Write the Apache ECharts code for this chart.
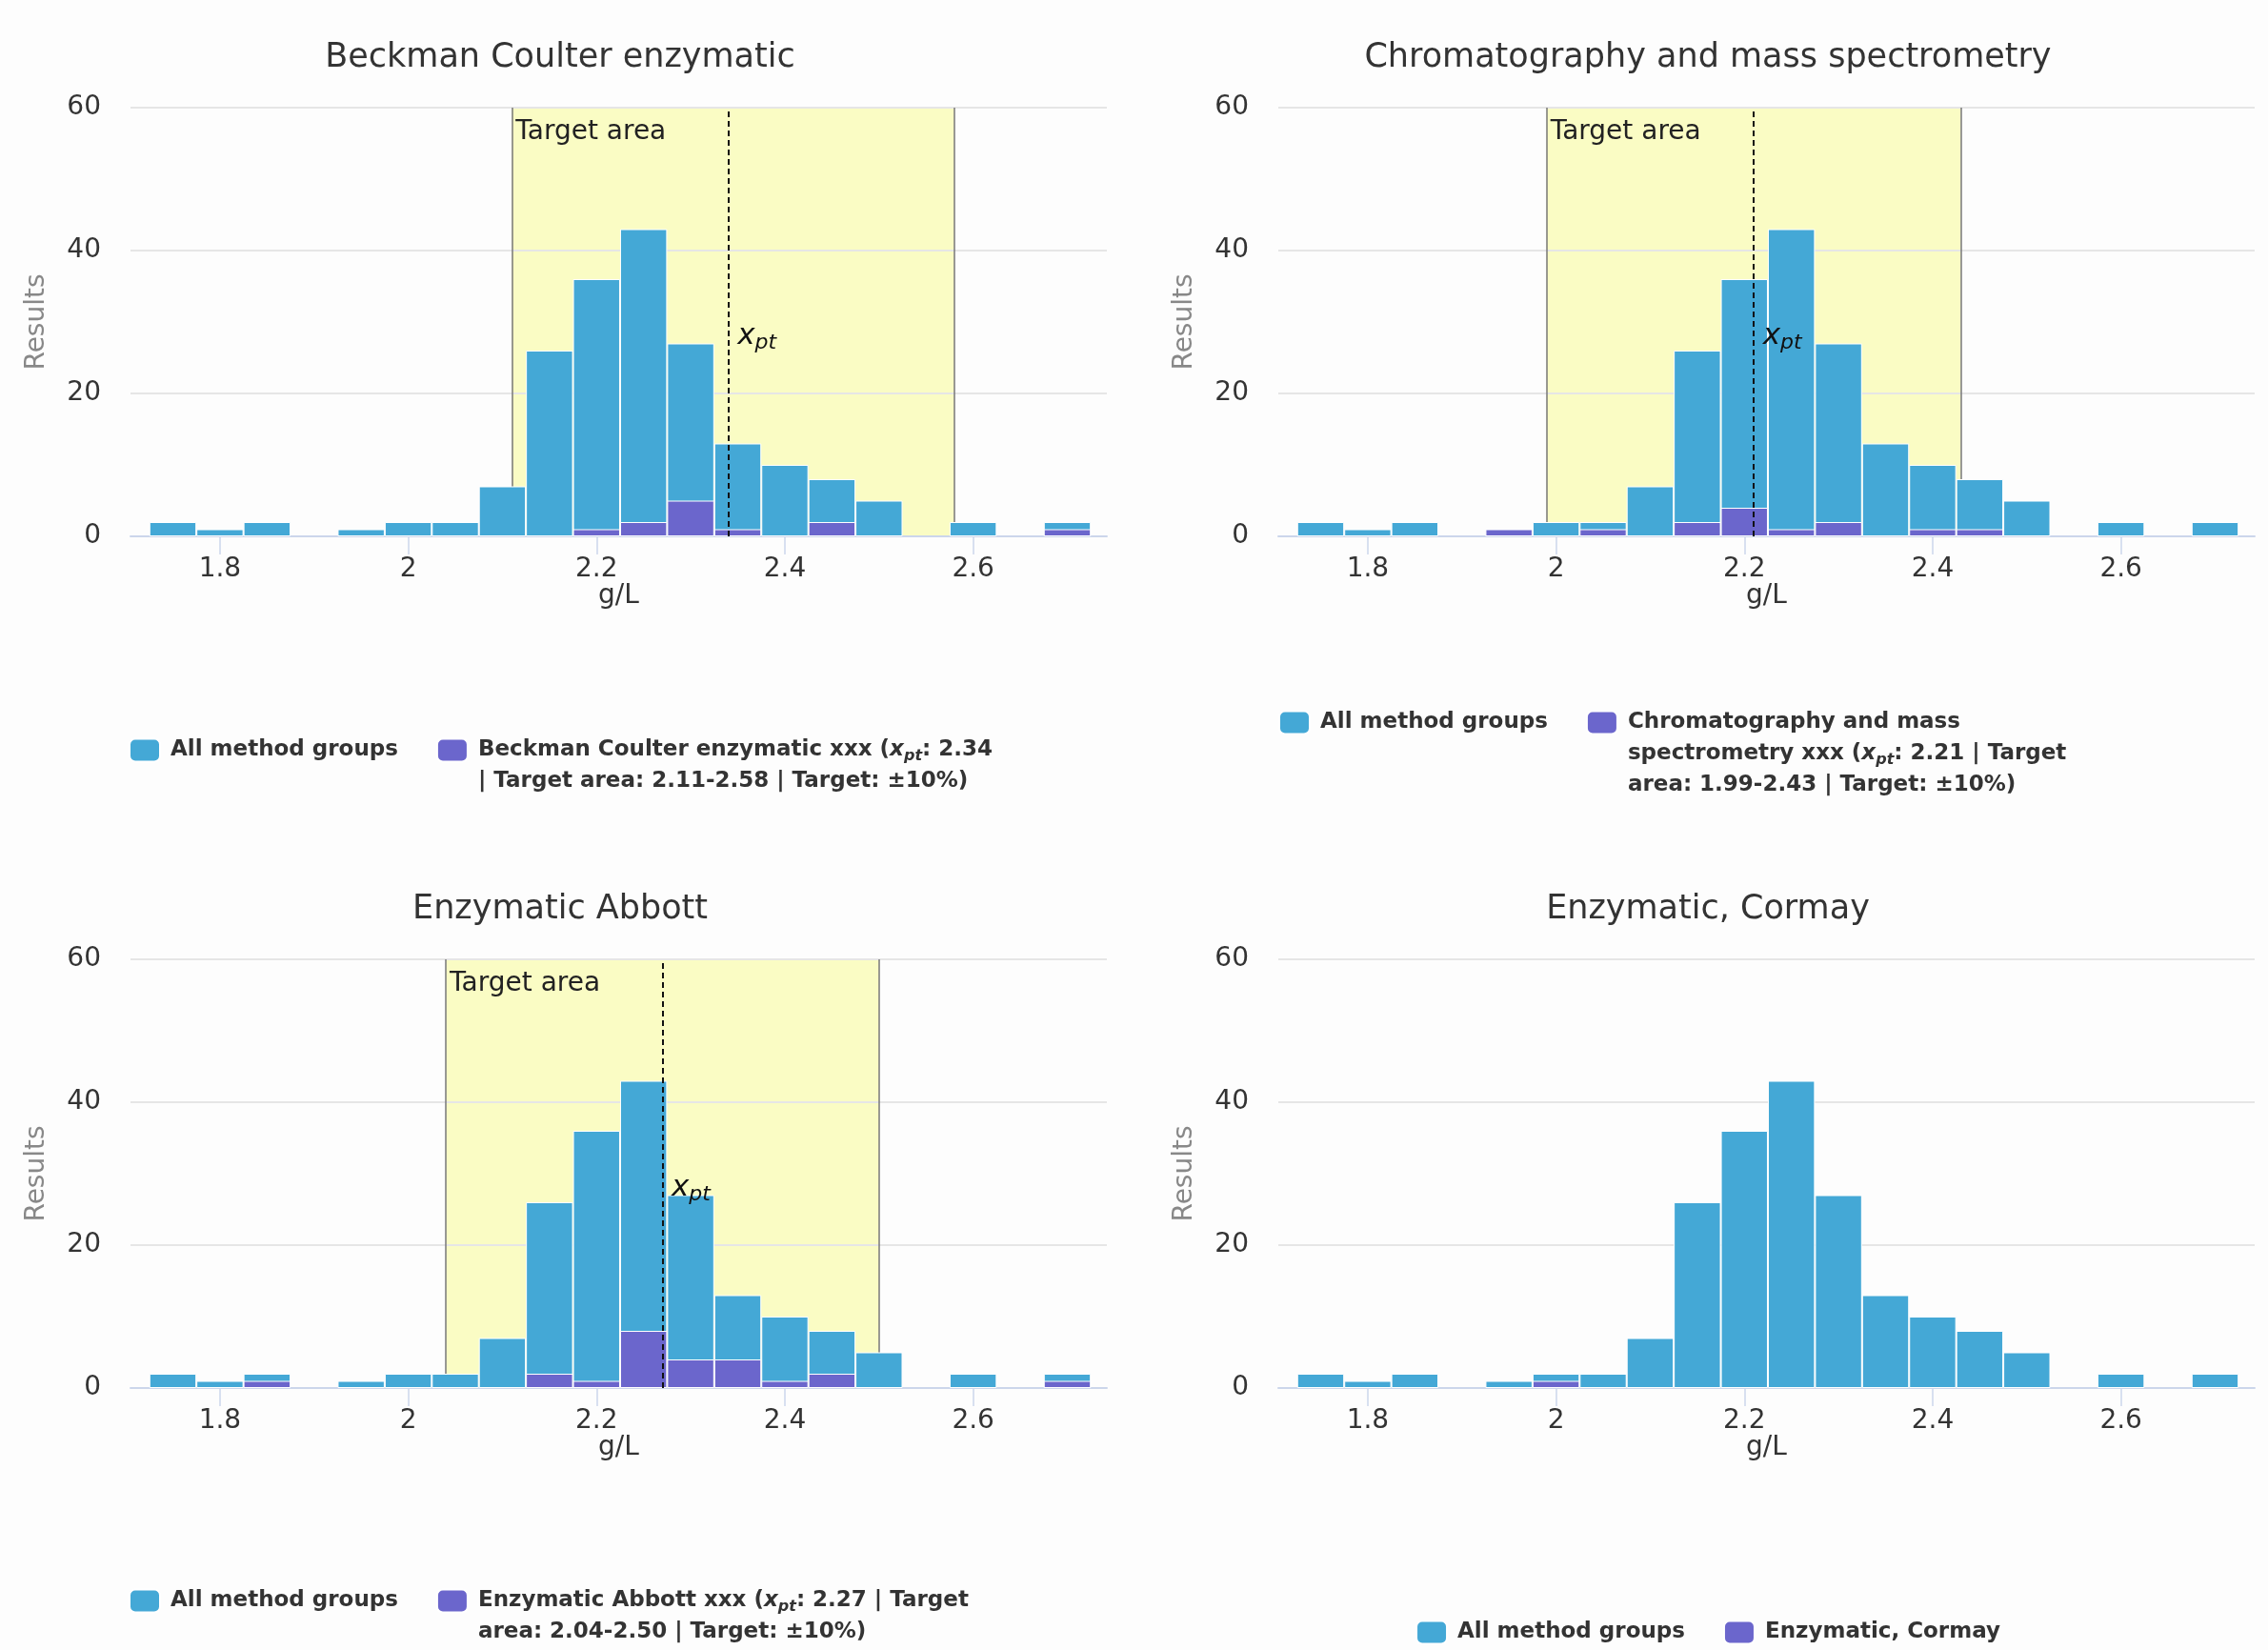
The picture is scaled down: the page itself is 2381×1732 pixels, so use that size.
<!DOCTYPE html>
<html>
<head>
<meta charset="utf-8">
<title>Results by method group</title>
<script src="https://cdn.jsdelivr.net/npm/echarts@6/dist/echarts.min.js"></script>
<style>
  html, body { margin: 0; padding: 0; overflow: hidden; background: #fdfdfd; }
  body { width: 2381px; height: 1732px; position: relative; }
  .panel { position: absolute; width: 1176px; }
  #c0 { left: 0; top: 0; height: 866px; }
  #c1 { left: 1205px; top: 0; height: 866px; }
  #c2 { left: 0; top: 894px; height: 838px; }
  #c3 { left: 1205px; top: 894px; height: 838px; }
</style>
</head>
<body>
<div id="c0" class="panel"></div>
<div id="c1" class="panel"></div>
<div id="c2" class="panel"></div>
<div id="c3" class="panel"></div>
<script>
  // bin centres (g/L), bin width 0.05
  const binCenters = [1.75, 1.8, 1.85, 1.9, 1.95, 2.0, 2.05, 2.1, 2.15, 2.2,
    2.25, 2.3, 2.35, 2.4, 2.45, 2.5, 2.55, 2.6, 2.65, 2.7]
  const allGroups = [2, 1, 2, 0, 1, 2, 2, 7, 26, 36, 43, 27, 13, 10, 8, 5, 0, 2, 0, 2]

  const beckman = [0, 0, 0, 0, 0, 0, 0, 0, 0, 1, 2, 5, 1, 0, 2, 0, 0, 0, 0, 1]
  const chromatography = [0, 0, 0, 0, 1, 0, 1, 0, 2, 4, 1, 2, 0, 1, 1, 0, 0, 0, 0, 0]
  const abbott = [0, 0, 1, 0, 0, 0, 0, 0, 2, 1, 8, 4, 4, 1, 2, 0, 0, 0, 0, 1]
  const cormay = [0, 0, 0, 0, 0, 1, 0, 0, 0, 0, 0, 0, 0, 0, 0, 0, 0, 0, 0, 0]
  const methodCounts = [beckman, chromatography, abbott, cormay]

  const titles = ['Beckman Coulter enzymatic', 'Chromatography and mass spectrometry',
    'Enzymatic Abbott', 'Enzymatic, Cormay']
  const seriesNames = [
    'Beckman Coulter enzymatic xxx (xpt: 2.34 | Target area: 2.11-2.58 | Target: ±10%)',
    'Chromatography and mass spectrometry xxx (xpt: 2.21 | Target area: 1.99-2.43 | Target: ±10%)',
    'Enzymatic Abbott xxx (xpt: 2.27 | Target area: 2.04-2.50 | Target: ±10%)',
    'Enzymatic, Cormay',
  ]
  const legendLines = [
    ['Beckman Coulter enzymatic xxx ({xi|x}{sub|pt}: 2.34', '| Target area: 2.11-2.58 | Target: ±10%)'],
    ['Chromatography and mass', 'spectrometry xxx ({xi|x}{sub|pt}: 2.21 | Target', 'area: 1.99-2.43 | Target: ±10%)'],
    ['Enzymatic Abbott xxx ({xi|x}{sub|pt}: 2.27 | Target', 'area: 2.04-2.50 | Target: ±10%)'],
    ['Enzymatic, Cormay'],
  ]

  const xpt = [2.34, 2.21, 2.27, null]
  const targetLow = [2.11, 1.99, 2.04, null]
  const targetHigh = [2.58, 2.43, 2.50, null]

  const xTicks = [1.8, 2, 2.2, 2.4, 2.6]
  const yTicks = { min: 0, max: 60, interval: 20 }

  const FONT = 'DejaVu Sans'
  const BLUE = '#44a8d6'
  const PURPLE = '#6b66cc'
  const YELLOW = '#fafcc4'
  const LINE_H = 33

  const legendLeft = [135, 137, 135, 'center']
  const legendTop = [738, 676, 737, 803]

  const rich = {
    xi: { fontFamily: FONT, fontStyle: 'italic', fontWeight: 'bold', fontSize: 23, color: '#333' },
    sub: { fontFamily: FONT, fontStyle: 'italic', fontWeight: 'bold', fontSize: 16, color: '#333', padding: [12, 0, 0, 0] },
  }

  function toPairs(values) {
    return binCenters.map((x, k) => [x, values[k] === 0 ? '-' : values[k]])
  }

  function buildOption(i) {
    const hasTarget = xpt[i] != null
    const lines = legendLines[i]

    const allSeries = {
      name: 'All method groups',
      type: 'bar',
      data: toPairs(allGroups),
      barWidth: '100%',
      barGap: '-100%',
      itemStyle: { color: BLUE, borderColor: '#ffffff', borderWidth: 1 },
      emphasis: { disabled: true },
    }
    const methodSeries = {
      name: seriesNames[i],
      type: 'bar',
      data: toPairs(methodCounts[i]),
      barWidth: '100%',
      barGap: '-100%',
      itemStyle: { color: PURPLE, borderColor: '#ffffff', borderWidth: 1 },
      emphasis: { disabled: true },
    }

    if (hasTarget) {
      allSeries.markArea = {
        silent: true,
        z: -1,
        itemStyle: { color: YELLOW },
        label: {
          show: true,
          position: [4, 12],
          formatter: 'Target area',
          fontFamily: FONT,
          fontSize: 28,
          color: '#222',
        },
        data: [[{ xAxis: targetLow[i] }, { xAxis: targetHigh[i] }]],
      }
      allSeries.markLine = {
        silent: true,
        z: 1,
        symbol: 'none',
        label: { show: false },
        lineStyle: { color: '#777', width: 1.5, type: 'solid' },
        data: [{ xAxis: targetLow[i] }, { xAxis: targetHigh[i] }],
      }
      methodSeries.markLine = {
        silent: true,
        symbol: 'none',
        label: { show: false },
        lineStyle: { color: '#111', width: 2, type: [6, 4] },
        data: [{ xAxis: xpt[i] }],
      }
      methodSeries.markPoint = {
        silent: true,
        symbol: 'circle',
        symbolSize: 1,
        itemStyle: { color: 'transparent' },
        label: {
          show: true,
          position: 'right',
          distance: 9,
          formatter: '{x|x}{s|pt}',
          rich: {
            x: { fontFamily: FONT, fontStyle: 'italic', fontSize: 31, color: '#111' },
            s: { fontFamily: FONT, fontStyle: 'italic', fontSize: 22, color: '#111', padding: [14, 0, 0, 0] },
          },
        },
        data: [{ coord: [xpt[i], 28] }],
      }
    }

    return {
      animation: false,
      backgroundColor: 'transparent',
      title: {
        text: titles[i],
        left: 'center',
        top: 38,
        textStyle: { fontFamily: FONT, fontSize: 35, fontWeight: 'normal', color: '#333' },
      },
      legend: {
        left: legendLeft[i],
        top: legendTop[i],
        padding: 0,
        itemGap: 40,
        itemWidth: 32,
        itemHeight: 24,
        textStyle: {
          fontFamily: FONT,
          fontSize: 23,
          fontWeight: 'bold',
          color: '#333',
          lineHeight: LINE_H,
          padding: [0, 0, 0, 6],
          rich,
        },
        data: [
          { name: 'All method groups', itemStyle: { borderRadius: 2 } },
          // push the text block down so its first line sits beside the icon
          { name: seriesNames[i], textStyle: { padding: [LINE_H * (lines.length - 1), 0, 0, 6] } },
        ],
        formatter: (name) => (name === seriesNames[i] ? lines.join('\n') : name),
      },
      grid: { left: 137, top: 113, width: 1025, height: 450 },
      xAxis: {
        type: 'value',
        min: 1.705,
        max: 2.742,
        name: 'g/L',
        nameLocation: 'middle',
        nameGap: 49,
        nameMoveOverlap: false,
        nameTextStyle: { fontFamily: FONT, fontSize: 28, color: '#333' },
        axisLine: { lineStyle: { color: '#ccd6eb', width: 2 } },
        axisTick: { show: true, customValues: xTicks, length: 19, lineStyle: { color: '#ccd6eb', width: 1.5 } },
        axisLabel: { customValues: xTicks, fontFamily: FONT, fontSize: 28, color: '#333', margin: 21 },
        splitLine: { show: false },
      },
      yAxis: {
        type: 'value',
        min: yTicks.min,
        max: yTicks.max,
        interval: yTicks.interval,
        name: 'Results',
        nameLocation: 'middle',
        nameGap: 84,
        nameTextStyle: { fontFamily: FONT, fontSize: 28, color: '#888' },
        axisLine: { show: false },
        axisTick: { show: false },
        axisLabel: { fontFamily: FONT, fontSize: 28, color: '#333', margin: 31 },
        splitLine: { lineStyle: { color: '#e6e6e6', width: 2 } },
      },
      series: [allSeries, methodSeries],
    }
  }

  for (let i = 0; i < 4; i++) {
    const chart = echarts.init(document.getElementById('c' + i))
    chart.setOption(buildOption(i))
  }
</script>
</body>
</html>
